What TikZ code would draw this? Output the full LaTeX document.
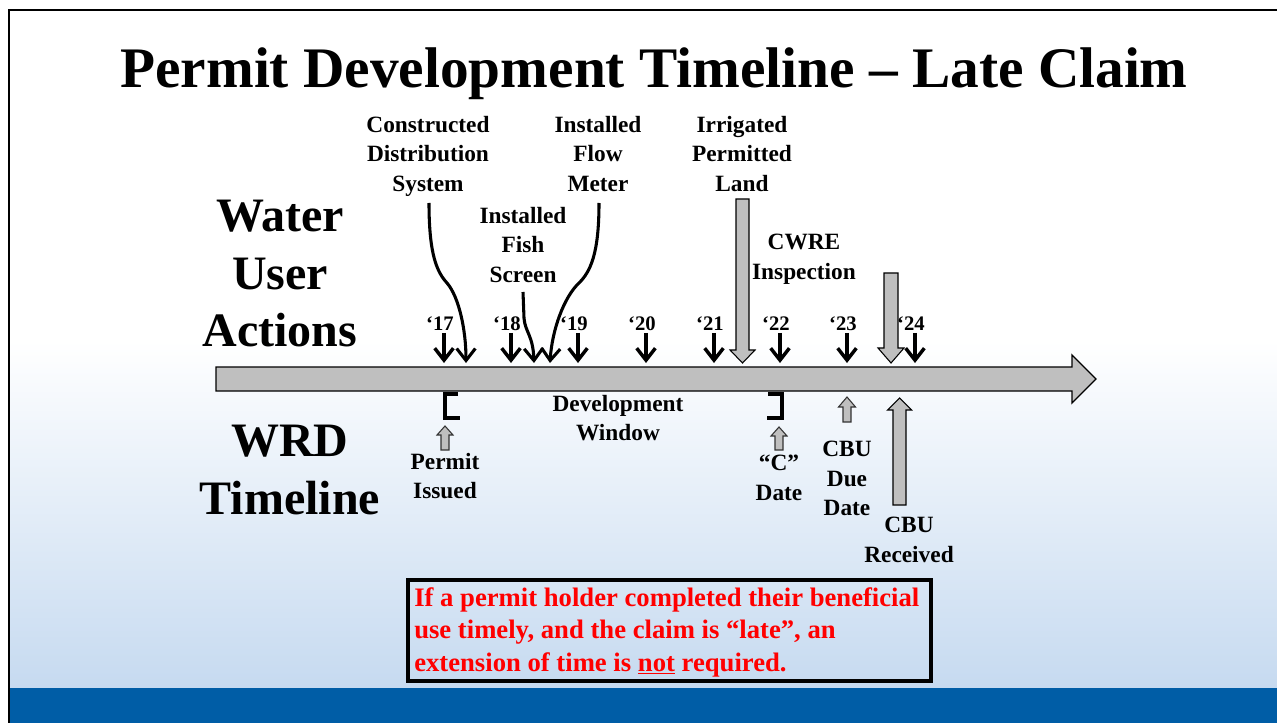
\documentclass[tikz,border=0pt]{standalone}
\usepackage{fontspec}
\setmainfont{Liberation Serif}
\usetikzlibrary{arrows.meta}
\definecolor{tlgray}{HTML}{BFBFBF}
\definecolor{bandblue}{HTML}{005DA6}
\definecolor{bgblue}{HTML}{C6DAF0}
\definecolor{notered}{HTML}{FF0000}
\newcommand\grayarrowpoly[7]{%
  \draw[#7] ({#1-#5},{#2}) -- ({#1+#5},{#2}) -- ({#1+#5},{#3}) -- ({#1+#6},{#3}) -- ({#1},{#4}) -- ({#1-#6},{#3}) -- ({#1-#5},{#3}) -- cycle;}
\tikzset{
  lbl/.style={font=\fontsize{17.5}{22}\selectfont\bfseries, align=center, inner sep=0pt, anchor=north},
  biglbl/.style={font=\fontsize{36}{43}\selectfont\bfseries, align=center, inner sep=0pt, anchor=north},
  yr/.style={font=\fontsize{15.5}{18}\selectfont\bfseries, inner sep=0pt, anchor=base},
  tick/.style={line width=2.6pt, -{Straight Barb[length=9pt,width=14pt]}},
  curvearrow/.style={line width=2.3pt, -{Straight Barb[length=9pt,width=14pt]}},
  garrow/.style={fill=tlgray, draw=black, line width=0.8pt},
  sarrow/.style={fill=tlgray, draw=black!80, line width=0.8pt},
  bracketline/.style={line width=3pt},
  timeline/.style={fill=tlgray, draw=black, line width=1pt},
}
\begin{document}
\begin{tikzpicture}[x=0.75pt,y=-0.75pt]
\useasboundingbox (0,0) rectangle (1277,723);
% background
\fill[white] (0,0) rectangle (1277,723);
\shade[top color=white, bottom color=bgblue] (10,340) rectangle (1277,688);
\fill[bandblue] (10,688) rectangle (1277,723);
\draw[line width=1.9pt] (9,723) -- (9,10) -- (1277,10);

% title
\node[font=\fontsize{43}{50}\selectfont\bfseries, anchor=base, inner sep=0pt] (title) at (654,88) {Permit Development Timeline – Late Claim};

% side labels
\node[biglbl] (wua) at (280,200) {Water\\User\\Actions};
\node[biglbl] (wrd) at (290,425) {WRD\\Timeline};

% timeline arrow
\draw[timeline] (216,367) -- (1072,367) -- (1072,355) -- (1096,379) -- (1072,403) -- (1072,391) -- (216,391) -- cycle;

% year ticks
\foreach \yname/\ax in {17/444, 18/511, 19/578, 20/646, 21/714, 22/780, 23/847, 24/915}{
  \node[yr] (y\yname) at ({\ax-4},330) {‘\yname};
  \coordinate (a\yname) at (\ax,363);
  \draw[tick] (\ax,333) -- (a\yname);
}

% top labels
\node[lbl] (cds) at (428,116) {Constructed\\Distribution\\System};
\node[lbl] (ifm) at (598,116) {Installed\\Flow\\Meter};
\node[lbl] (ipl) at (742,116) {Irrigated\\Permitted\\Land};
\node[lbl] (ifs) at (523,207) {Installed\\Fish\\Screen};
\node[lbl] (cwre) at (804,234) {CWRE\\Inspection};

% curved arrows
\coordinate (cdsS) at (429,203);
\coordinate (cdsE) at (466,363);
\coordinate (ifmS) at (599,203);
\coordinate (ifmE) at (550,363);
\coordinate (ifsS) at (523,292);
\coordinate (ifsE) at (534,363);
\draw[curvearrow] (cdsS) .. controls (429,255) and (437,272) .. (447,283) .. controls (459,297) and (466,330) .. (cdsE);
\draw[curvearrow] (ifmS) .. controls (599,255) and (590,272) .. (579,283) .. controls (564,297) and (552,330) .. (ifmE);
\draw[curvearrow] (ifsS) -- (524,318) .. controls (525,332) and (533,335) .. (ifsE);

% gray down arrows
\grayarrowpoly{742.5}{199}{350}{363}{6.5}{12.5}{garrow}
\grayarrowpoly{891}{273}{348}{363}{7}{13}{garrow}

% brackets
\draw[bracketline] (458,394) -- (445,394) -- (445,418) -- (460,418);
\draw[bracketline] (768,394) -- (782,394) -- (782,418) -- (767,418);

% bottom labels
\node[lbl] (pi) at (445,453) {Permit\\Issued};
\node[lbl] (dw) at (618,395) {Development\\Window};
\node[lbl] (cd) at (779,455) {“C”\\Date};
\node[lbl] (cbud) at (847,441) {CBU\\Due\\Date};
\node[lbl] (cbur) at (909,517) {CBU\\Received};

% gray up arrows
\grayarrowpoly{445}{450}{435}{426}{4}{8}{sarrow}
\grayarrowpoly{779}{450}{436}{427}{4}{8}{sarrow}
\grayarrowpoly{847}{422}{407}{397}{4}{8.5}{sarrow}
\grayarrowpoly{899.5}{505}{410}{398}{6.5}{12}{garrow}

% note box
\node[draw, line width=3pt, minimum width=392.25pt, minimum height=75.75pt, anchor=north west, inner sep=0pt] (box) at (406,578) {};
\node[anchor=north west, inner sep=0pt, align=left, text=notered, font=\fontsize{20}{24.4}\selectfont\bfseries] (note) at (414,587)
  {If a permit holder completed their beneficial\\use timely, and the claim is “late”, an\\extension of time is \underline{not} required.};
\end{tikzpicture}
\end{document}
